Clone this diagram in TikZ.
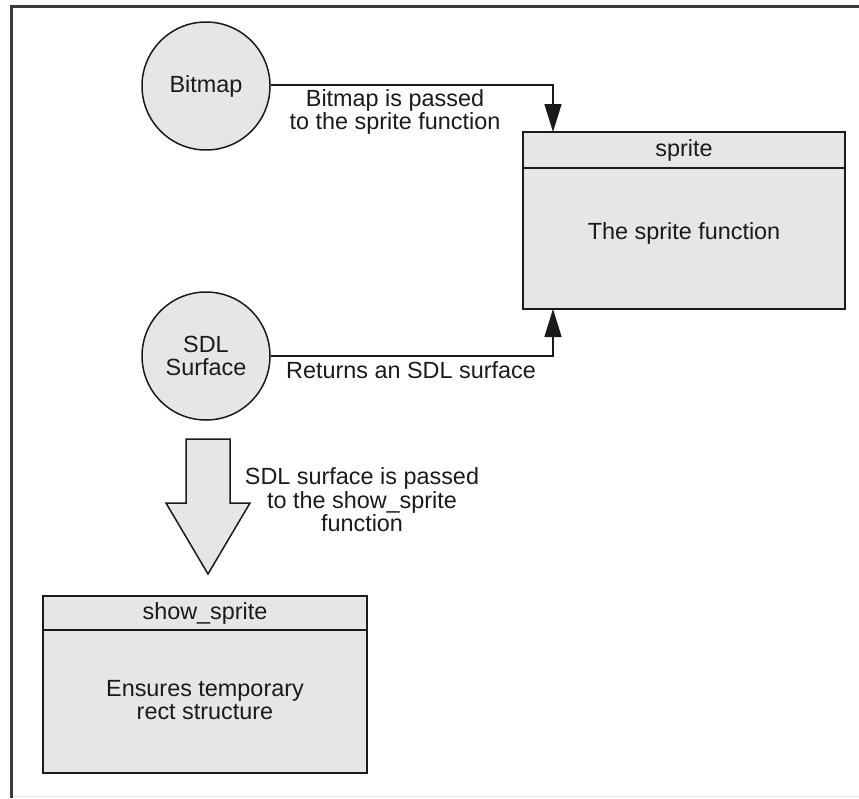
\documentclass[tikz,border=0pt]{standalone}
\usepackage{fontspec}
\setmainfont{Liberation Sans}
\usetikzlibrary{arrows.meta,positioning}
\definecolor{BoxGray}{HTML}{E6E6E6}
\definecolor{Ink}{HTML}{1A1A1A}
\definecolor{FrameGray}{HTML}{3A3A3A}

\begin{document}
\begin{tikzpicture}[x=1pt,y=-1pt,>={Triangle[length=28pt,width=17pt]},
    every node/.style={font=\fontsize{23.4}{23.5}\selectfont,text=Ink},
    datacircle/.style={circle,draw=Ink,fill=BoxGray,line width=1.5pt,minimum size=128pt,inner sep=0pt,align=center},
    headbox/.style={draw=Ink,fill=BoxGray,line width=1.6pt,inner sep=0pt,outer sep=0pt},
    flow/.style={->,draw=Ink,line width=1.5pt}]
      \useasboundingbox (0,0) rectangle (859,798);
      % frame
      \draw[FrameGray,line width=3pt] (859,6) -- (11.5,6) -- (11.5,798);
      \draw[gray!20,line width=1pt] (13,796) -- (859,796);

      % data
      \node[datacircle] (bitmap) at (206,86) {Bitmap};
      \node[datacircle] (surface) at (206,356) {SDL\\Surface};

      % sprite function
      \node[headbox,minimum width=322pt,minimum height=36pt] (spritehead) at (684,150) {sprite};
      \node[headbox,minimum width=322pt,minimum height=141pt] (spritebody) at (684,238.5) {};
      \node at (684,233) {The sprite function};

      % show_sprite function
      \node[headbox,minimum width=324pt,minimum height=34pt] (showhead) at (205,613) {show\_sprite};
      \node[headbox,minimum width=324pt,minimum height=143pt] (showbody) at (205,701.5) {};
      \node[align=center] at (205,700) {Ensures temporary\\rect structure};

      % connectors
      \coordinate (bitmapturn) at (553,85);
      \coordinate (surfaceturn) at (553,356);
      \draw[flow] (bitmap.east |- bitmapturn) -- (bitmapturn) -- (bitmapturn |- spritehead.north);
      \draw[flow] (surface.east) -- (surfaceturn) -- (surfaceturn |- spritebody.south);
      \node[align=center] (bitmaplabel) at (395,112) {Bitmap is passed\\to the sprite function};
      \node (returnlabel) at (411,370) {Returns an SDL surface};

      % block arrow down to show_sprite
      \draw[draw=Ink,fill=BoxGray,line width=1.5pt,line join=miter]
        (186,439) -- (230,439) -- (230,503) -- (250,503) -- (208,574)
        -- (166,503) -- (186,503) -- cycle;
      \node[align=center] (passlabel) at (362,500) {SDL surface is passed\\to the show\_sprite\\function};
    \end{tikzpicture}
\end{document}
